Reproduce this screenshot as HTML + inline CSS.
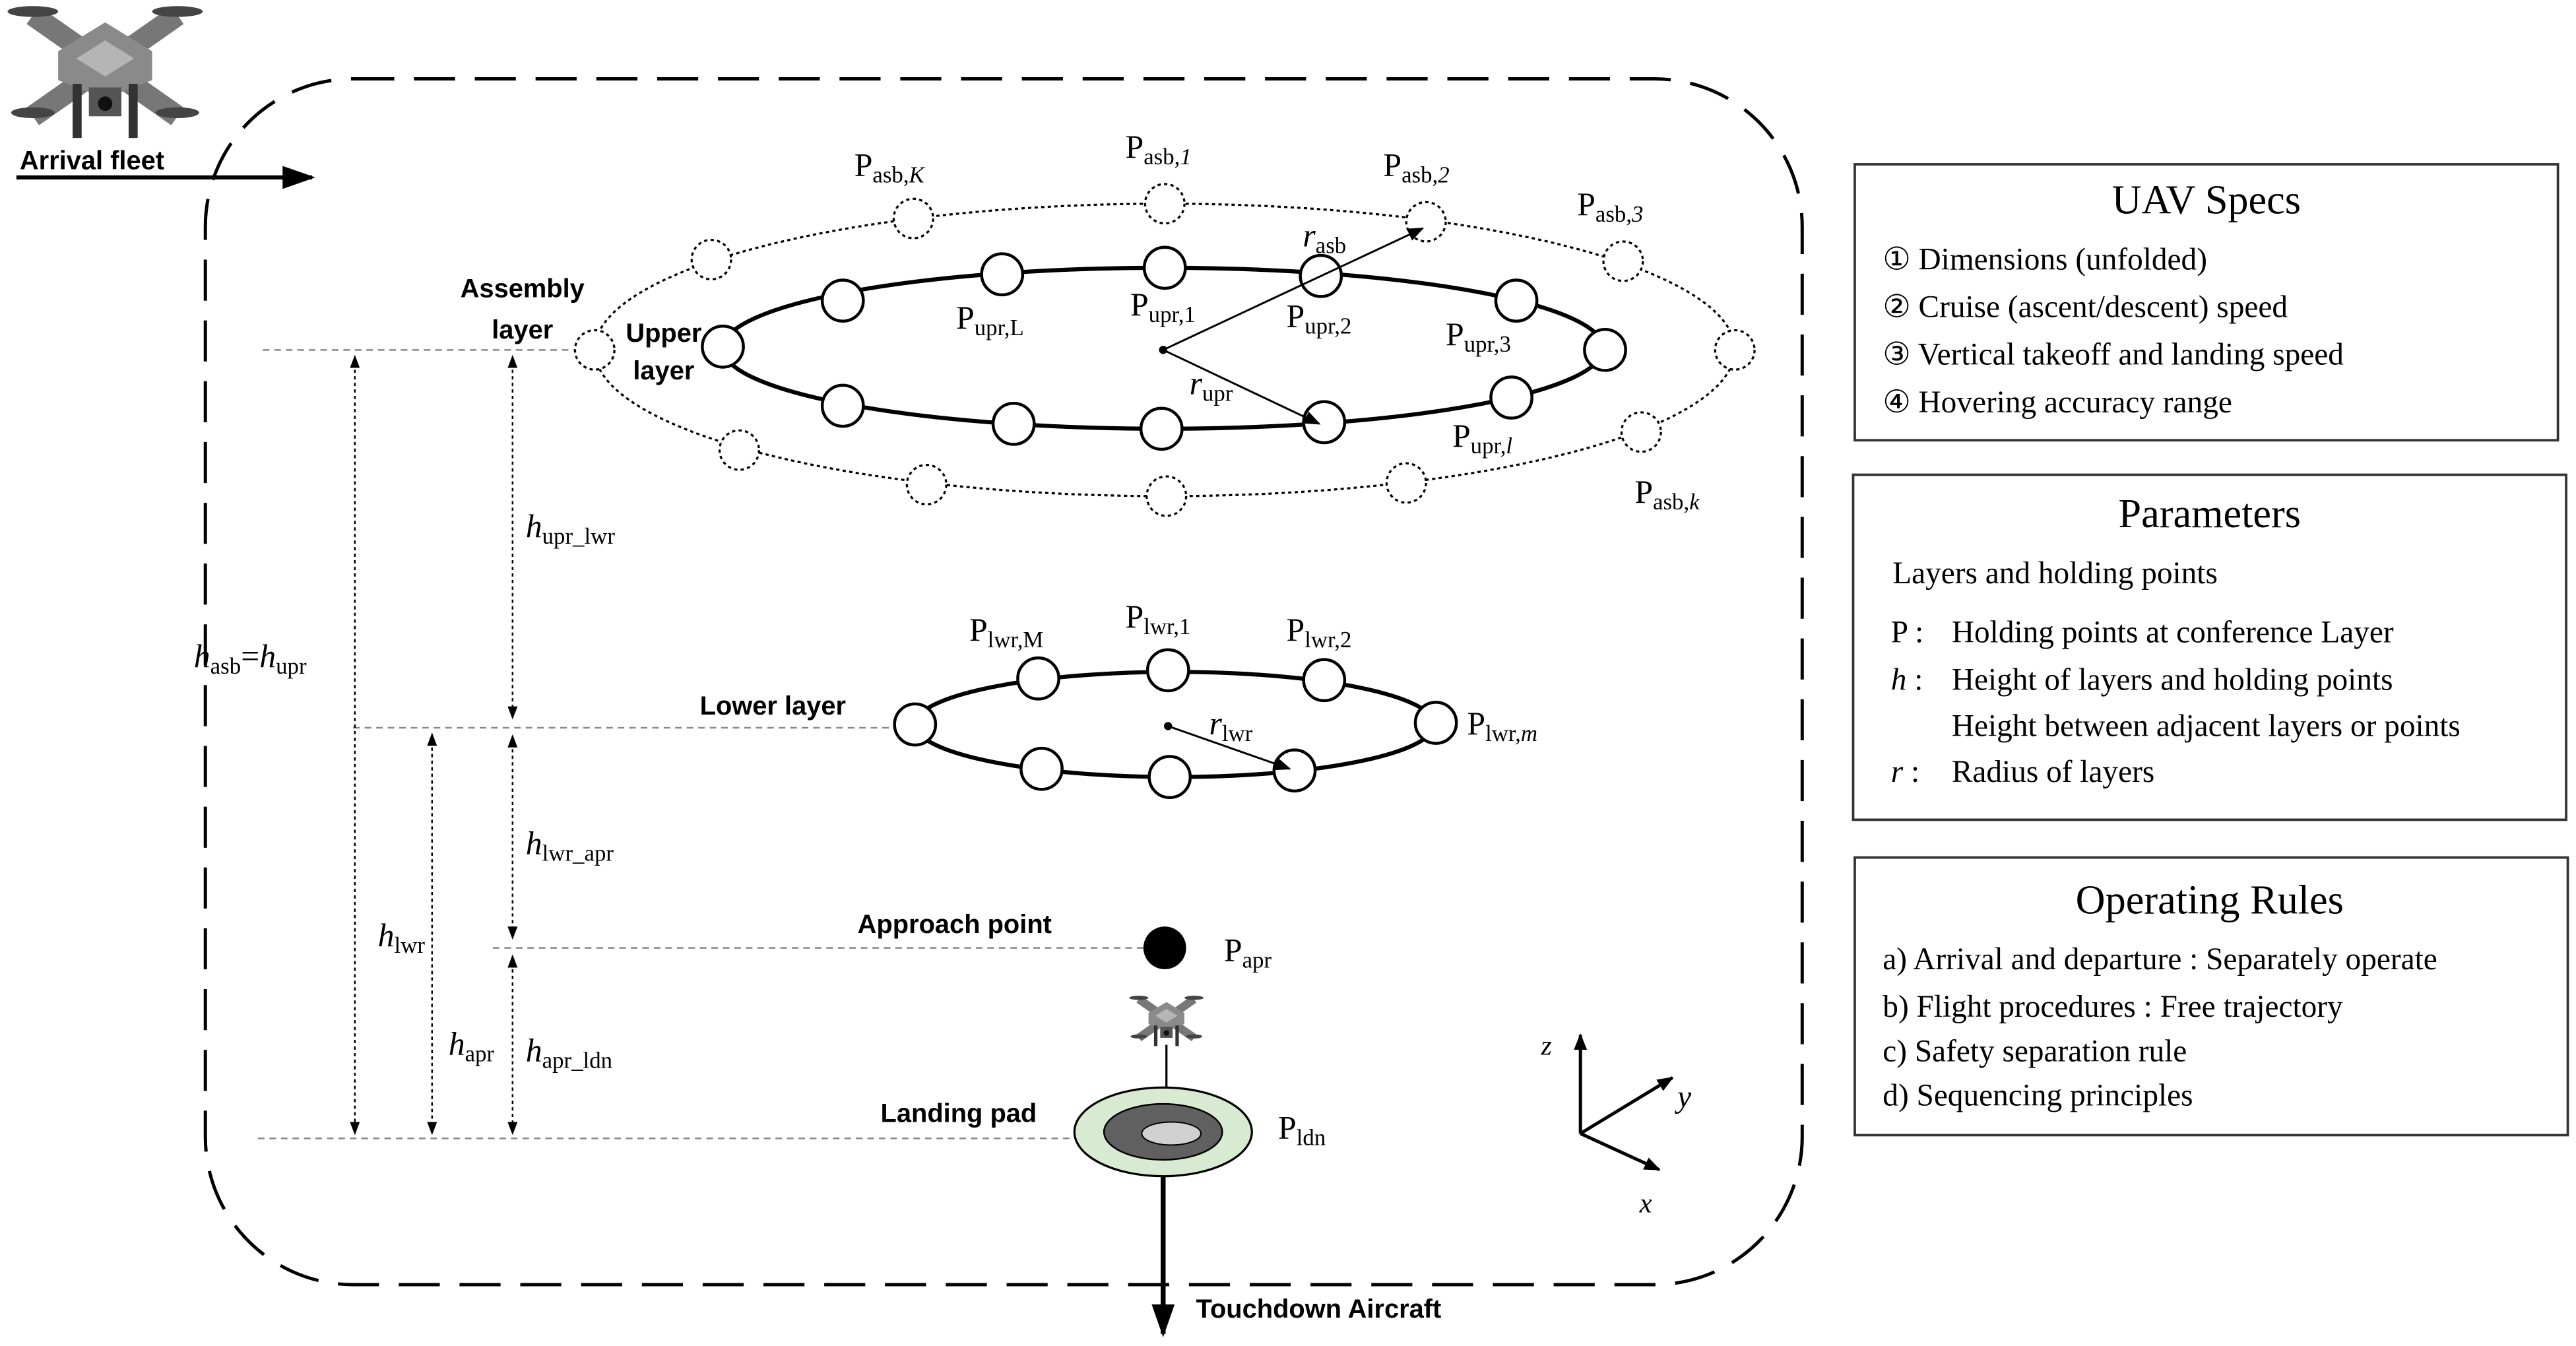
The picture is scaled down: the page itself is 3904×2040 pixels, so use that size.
<!DOCTYPE html>
<html><head><meta charset="utf-8"><style>
html,body{margin:0;padding:0;background:#fff;}
svg{display:block;}
.s{font-family:"Liberation Serif",serif;fill:#000;}
.b{font-family:"Liberation Sans",sans-serif;font-weight:bold;fill:#000;font-size:16px;}
</style></head><body>
<svg width="3904" height="2040" viewBox="0 0 1568 819.35" preserveAspectRatio="none" xmlns="http://www.w3.org/2000/svg">
<defs>
<marker id="ah" markerWidth="10" markerHeight="10" refX="9" refY="5" orient="auto" markerUnits="userSpaceOnUse"><path d="M0,1 L10,5 L0,9 z" fill="#000"/></marker>
<marker id="sa" markerWidth="8" markerHeight="8" refX="7" refY="4" orient="auto-start-reverse" markerUnits="userSpaceOnUse"><path d="M0,1 L8,4 L0,7 z" fill="#000"/></marker>
<marker id="big" markerWidth="20" markerHeight="20" refX="18" refY="10" orient="auto" markerUnits="userSpaceOnUse"><path d="M0,3 L20,10 L0,17 z" fill="#000"/></marker>
<g id="drone">
<path d="M-40,-28 L40,28 M40,-28 L-40,28" stroke="#777" stroke-width="12"/>
<ellipse cx="-40" cy="-30" rx="14" ry="3" fill="#444"/><ellipse cx="40" cy="-30" rx="14" ry="3" fill="#444"/>
<ellipse cx="-40" cy="26" rx="12" ry="3" fill="#444"/><ellipse cx="40" cy="26" rx="12" ry="3" fill="#444"/>
<path d="M-26,-8 L0,-24 L26,-8 L26,8 L0,18 L-26,8z" fill="#8a8a8a"/>
<path d="M-16,-4 L0,-14 L16,-4 L0,6z" fill="#b5b5b5"/>
<rect x="-18" y="10" width="5" height="30" fill="#333"/><rect x="13" y="10" width="5" height="30" fill="#333"/>
<rect x="-9" y="12" width="18" height="16" fill="#555"/><circle cx="0" cy="21" r="4" fill="#111"/>
</g>
</defs>

<rect x="125" y="48" width="972" height="734" rx="90" ry="90" fill="none" stroke="#000" stroke-width="2" stroke-dasharray="25,12"/>

<use href="#drone" transform="translate(64,40) scale(1.1)"/>
<text class="b" x="12" y="103">Arrival fleet</text>
<line x1="10" y1="108" x2="190" y2="108" stroke="#000" stroke-width="2.5" marker-end="url(#big)"/>

<g stroke="#888" stroke-width="1" stroke-dasharray="4,3">
<line x1="160" y1="213" x2="362" y2="213"/>
<line x1="215" y1="443" x2="545" y2="443"/>
<line x1="300" y1="577" x2="700" y2="577"/>
<line x1="157" y1="693" x2="700" y2="693"/>
</g>
<g stroke="#000" stroke-width="1" stroke-dasharray="2,2">
<line x1="216" y1="217" x2="216" y2="690" marker-start="url(#sa)" marker-end="url(#sa)"/>
<line x1="263" y1="447" x2="263" y2="690" marker-start="url(#sa)" marker-end="url(#sa)"/>
<line x1="312" y1="217" x2="312" y2="437" marker-start="url(#sa)" marker-end="url(#sa)"/>
<line x1="312" y1="448" x2="312" y2="571" marker-start="url(#sa)" marker-end="url(#sa)"/>
<line x1="312" y1="582" x2="312" y2="690" marker-start="url(#sa)" marker-end="url(#sa)"/>
</g>

<ellipse cx="709" cy="213" rx="347" ry="89" fill="none" stroke="#000" stroke-width="1.3" stroke-dasharray="2,2"/>
<g fill="#fff" stroke="#000" stroke-width="1.3" stroke-dasharray="2,2">
<circle cx="556" cy="133" r="12"/><circle cx="709" cy="124" r="12"/><circle cx="868" cy="135" r="12"/>
<circle cx="988" cy="159" r="12"/><circle cx="1056" cy="213" r="12"/><circle cx="999" cy="263" r="12"/>
<circle cx="856" cy="294" r="12"/><circle cx="710" cy="302" r="12"/><circle cx="564" cy="295" r="12"/>
<circle cx="450" cy="274" r="12"/><circle cx="362" cy="213" r="12"/><circle cx="433" cy="158" r="12"/>
</g>
<ellipse cx="708" cy="212" rx="268" ry="49" fill="none" stroke="#000" stroke-width="2.5"/>
<g fill="#fff" stroke="#000" stroke-width="1.8">
<circle cx="440" cy="211" r="12.5"/><circle cx="513" cy="183" r="12.5"/><circle cx="610" cy="167" r="12.5"/>
<circle cx="709" cy="163" r="12.5"/><circle cx="804" cy="168" r="12.5"/><circle cx="923" cy="183" r="12.5"/>
<circle cx="977" cy="213" r="12.5"/><circle cx="920" cy="242" r="12.5"/><circle cx="806" cy="257" r="12.5"/>
<circle cx="707" cy="261" r="12.5"/><circle cx="617" cy="258" r="12.5"/><circle cx="513" cy="247" r="12.5"/>
</g>
<circle cx="708" cy="213" r="2.5"/>
<line x1="708" y1="213" x2="866" y2="139" stroke="#000" stroke-width="1.2" marker-end="url(#ah)"/>
<line x1="708" y1="213" x2="803" y2="258" stroke="#000" stroke-width="1.2" marker-end="url(#ah)"/>

<ellipse cx="715" cy="441" rx="158" ry="32" fill="none" stroke="#000" stroke-width="2.5"/>
<g fill="#fff" stroke="#000" stroke-width="1.8">
<circle cx="557" cy="441" r="12.5"/><circle cx="632" cy="413" r="12.5"/><circle cx="711" cy="408" r="12.5"/>
<circle cx="806" cy="414" r="12.5"/><circle cx="874" cy="440" r="12.5"/><circle cx="788" cy="469" r="12.5"/>
<circle cx="712" cy="473" r="12.5"/><circle cx="634" cy="468" r="12.5"/>
</g>
<circle cx="711" cy="442" r="2.5"/>
<line x1="711" y1="442" x2="785" y2="468" stroke="#000" stroke-width="1.2" marker-end="url(#ah)"/>

<circle cx="709" cy="577" r="13" fill="#000"/>
<use href="#drone" transform="translate(710,620) scale(0.42)"/>
<line x1="710" y1="636" x2="710" y2="684" stroke="#000" stroke-width="1.3" marker-end="url(#sa)"/>
<ellipse cx="708" cy="689" rx="54" ry="27" fill="#d9ead3" stroke="#000" stroke-width="1.3"/>
<ellipse cx="708" cy="689" rx="36" ry="17" fill="#606060" stroke="#000" stroke-width="1"/>
<ellipse cx="713" cy="690" rx="18" ry="7" fill="#d0d0d0" stroke="#000" stroke-width="0.8"/>
<line x1="708" y1="716" x2="708" y2="812" stroke="#000" stroke-width="3" marker-end="url(#big)"/>

<g stroke="#000" stroke-width="2">
<line x1="962" y1="690" x2="962" y2="630" marker-end="url(#ah)"/>
<line x1="962" y1="690" x2="1018" y2="656" marker-end="url(#ah)"/>
<line x1="962" y1="690" x2="1010" y2="712" marker-end="url(#ah)"/>
</g>
<text class="s" x="938" y="642" font-size="17" font-style="italic">z</text>
<text class="s" x="1021" y="674" font-size="19" font-style="italic">y</text>
<text class="s" x="998" y="738" font-size="17" font-style="italic">x</text>

<text class="b" x="318" y="181" text-anchor="middle">Assembly</text>
<text class="b" x="318" y="206" text-anchor="middle">layer</text>
<text class="b" x="404" y="208" text-anchor="middle">Upper</text>
<text class="b" x="404" y="231" text-anchor="middle">layer</text>
<text class="b" x="426" y="435">Lower layer</text>
<text class="b" x="522" y="568">Approach point</text>
<text class="b" x="536" y="683">Landing pad</text>
<text class="b" x="728" y="802">Touchdown Aircraft</text>

<g class="s" font-size="20">
<text x="520" y="107">P<tspan font-size="14" dy="4">asb,<tspan font-style="italic">K</tspan></tspan></text>
<text x="685" y="96">P<tspan font-size="14" dy="4">asb,<tspan font-style="italic">1</tspan></tspan></text>
<text x="842" y="107">P<tspan font-size="14" dy="4">asb,<tspan font-style="italic">2</tspan></tspan></text>
<text x="960" y="131">P<tspan font-size="14" dy="4">asb,<tspan font-style="italic">3</tspan></tspan></text>
<text x="995" y="306">P<tspan font-size="14" dy="4">asb,<tspan font-style="italic">k</tspan></tspan></text>
<text x="582" y="200">P<tspan font-size="14" dy="4">upr,L</tspan></text>
<text x="688" y="192">P<tspan font-size="14" dy="4">upr,1</tspan></text>
<text x="783" y="199">P<tspan font-size="14" dy="4">upr,2</tspan></text>
<text x="880" y="210">P<tspan font-size="14" dy="4">upr,3</tspan></text>
<text x="884" y="272">P<tspan font-size="14" dy="4">upr,<tspan font-style="italic">l</tspan></tspan></text>
<text x="590" y="390">P<tspan font-size="14" dy="4">lwr,M</tspan></text>
<text x="685" y="382">P<tspan font-size="14" dy="4">lwr,1</tspan></text>
<text x="783" y="390">P<tspan font-size="14" dy="4">lwr,2</tspan></text>
<text x="893" y="447">P<tspan font-size="14" dy="4">lwr,<tspan font-style="italic">m</tspan></tspan></text>
<text x="745" y="585">P<tspan font-size="14" dy="4">apr</tspan></text>
<text x="778" y="693">P<tspan font-size="14" dy="4">ldn</tspan></text>
<text x="793" y="150" font-style="italic">r<tspan font-size="14" dy="4" font-style="normal">asb</tspan></text>
<text x="724" y="240" font-style="italic">r<tspan font-size="14" dy="4" font-style="normal">upr</tspan></text>
<text x="736" y="447" font-style="italic">r<tspan font-size="14" dy="4" font-style="normal">lwr</tspan></text>
<text x="118" y="406" font-style="italic">h<tspan font-size="14" dy="4" font-style="normal">asb</tspan><tspan dy="-4" font-style="normal">=</tspan>h<tspan font-size="14" dy="4" font-style="normal">upr</tspan></text>
<text x="320" y="327" font-style="italic">h<tspan font-size="14" dy="4" font-style="normal">upr_lwr</tspan></text>
<text x="320" y="520" font-style="italic">h<tspan font-size="14" dy="4" font-style="normal">lwr_apr</tspan></text>
<text x="230" y="576" font-style="italic">h<tspan font-size="14" dy="4" font-style="normal">lwr</tspan></text>
<text x="273" y="642" font-style="italic">h<tspan font-size="14" dy="4" font-style="normal">apr</tspan></text>
<text x="320" y="646" font-style="italic">h<tspan font-size="14" dy="4" font-style="normal">apr_ldn</tspan></text>
</g>

<g fill="none" stroke="#333" stroke-width="1.5">
<rect x="1129" y="100" width="428" height="168"/>
<rect x="1128" y="289" width="434" height="210"/>
<rect x="1129" y="522" width="434" height="169"/>
</g>
<g class="s" font-size="19">
<text x="1343" y="130" font-size="25" text-anchor="middle">UAV Specs</text>
<text x="1146" y="164">① Dimensions (unfolded)</text>
<text x="1146" y="193">② Cruise (ascent/descent) speed</text>
<text x="1146" y="222">③ Vertical takeoff and landing speed</text>
<text x="1146" y="251">④ Hovering accuracy range</text>
<text x="1345" y="321" font-size="25" text-anchor="middle">Parameters</text>
<text x="1152" y="355">Layers and holding points</text>
<text x="1151" y="391">P :</text><text x="1188" y="391">Holding points at conference Layer</text>
<text x="1151" y="420"><tspan font-style="italic">h</tspan> :</text><text x="1188" y="420">Height of layers and holding points</text>
<text x="1188" y="448">Height between adjacent layers or points</text>
<text x="1151" y="476"><tspan font-style="italic">r</tspan> :</text><text x="1188" y="476">Radius of layers</text>
<text x="1345" y="556" font-size="25" text-anchor="middle">Operating Rules</text>
<text x="1146" y="590">a) Arrival and departure :  Separately operate</text>
<text x="1146" y="619">b) Flight procedures :  Free trajectory</text>
<text x="1146" y="646">c) Safety separation rule</text>
<text x="1146" y="673">d) Sequencing principles</text>
</g>
</svg>
</body></html>
